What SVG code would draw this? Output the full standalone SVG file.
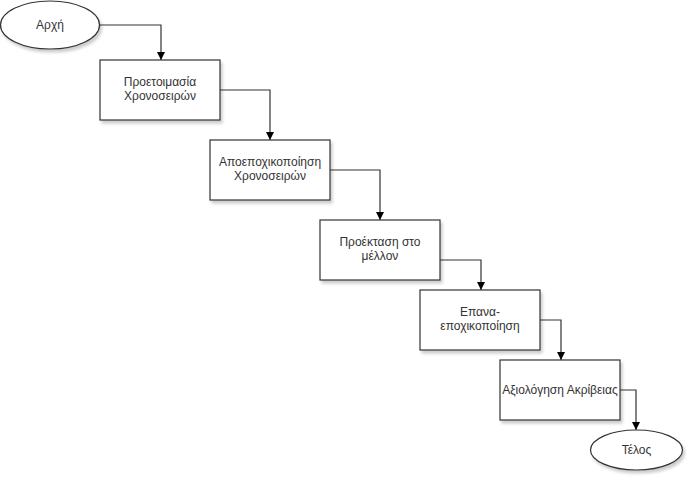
<svg xmlns="http://www.w3.org/2000/svg" width="687" height="477" viewBox="0 0 687 477">
<style>
.n{fill:#fff;stroke:#333;stroke-width:1.2;filter:url(#sh)}
.t{font-family:"Liberation Sans",Arial,sans-serif;font-size:12px;fill:#333;text-anchor:middle}
.c{fill:none;stroke:#333;stroke-width:1.2;marker-end:url(#ar)}
</style>
<defs>
<filter id="sh" x="-20%" y="-20%" width="140%" height="150%">
<feGaussianBlur in="SourceAlpha" stdDeviation="1.5"/>
<feOffset dx="2" dy="3" result="b"/>
<feComponentTransfer><feFuncA type="linear" slope="0.2"/></feComponentTransfer>
<feMerge><feMergeNode/><feMergeNode in="SourceGraphic"/></feMerge>
</filter>
<marker id="ar" viewBox="0 0 10 10" refX="10" refY="5" markerWidth="8" markerHeight="8" markerUnits="userSpaceOnUse" orient="auto">
<path d="M0,0 L10,5 L0,10 z" fill="#000"/>
</marker>
</defs>
<g id="connectors">
<path class="c" d="M100,25 H161 V60"/>
<path class="c" d="M220,90 H270 V140"/>
<path class="c" d="M330,170 H380 V220"/>
<path class="c" d="M440,260 H481 V290"/>
<path class="c" d="M540,320 H561 V360"/>
<path class="c" d="M620,390 H636 V430"/>
</g>
<g id="start">
<ellipse class="n" cx="50" cy="25" rx="49.5" ry="24"/>
<text class="t" x="50" y="29">Αρχή</text>
</g>
<g id="n1">
<rect class="n" x="100" y="60" width="120" height="60"/>
<text class="t" x="160" y="86">Προετοιμασία</text>
<text class="t" x="160" y="100">Χρονοσειρών</text>
</g>
<g id="n2">
<rect class="n" x="210" y="140" width="120" height="60"/>
<text class="t" x="270" y="166">Αποεποχικοποίηση</text>
<text class="t" x="270" y="180">Χρονοσειρών</text>
</g>
<g id="n3">
<rect class="n" x="320" y="220" width="120" height="60"/>
<text class="t" x="380" y="246">Προέκταση στο</text>
<text class="t" x="380" y="260">μέλλον</text>
</g>
<g id="n4">
<rect class="n" x="420" y="290" width="120" height="60"/>
<text class="t" x="480" y="316">Επανα-</text>
<text class="t" x="480" y="330">εποχικοποίηση</text>
</g>
<g id="n5">
<rect class="n" x="500" y="360" width="120" height="60"/>
<text class="t" x="560" y="394">Αξιολόγηση Ακρίβειας</text>
</g>
<g id="end">
<ellipse class="n" cx="636.5" cy="450" rx="46" ry="20"/>
<text class="t" x="636.5" y="454">Τέλος</text>
</g>
</svg>
